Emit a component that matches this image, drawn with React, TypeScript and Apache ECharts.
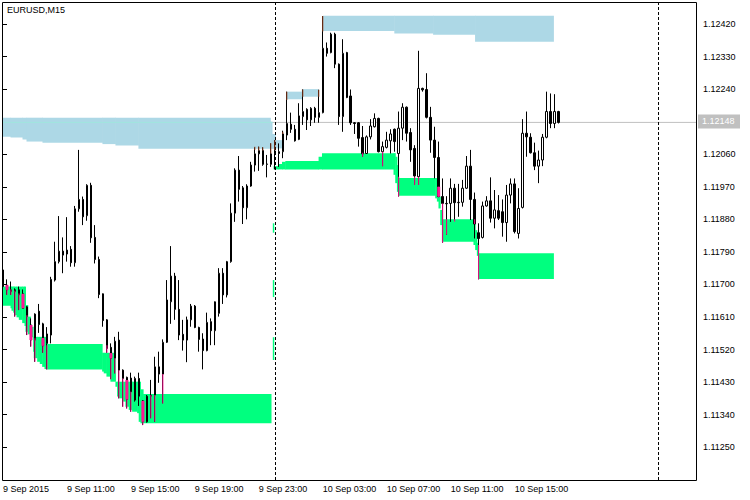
import React, { useEffect, useRef } from "react";
import * as echarts from "echarts";

const FONT = '"Liberation Sans", Arial, sans-serif';
const SYMBOL_TITLE = "EURUSD,M15";
const LAST_PRICE = 1.12148;

// 15-minute candles, 9 Sep 2015 07:00 .. 10 Sep 2015 17:45
const OPEN = [
  1.1174, 1.11698, 1.1168, 1.11685, 1.11685, 1.11674, 1.11638, 1.11588, 1.11546, 1.11626,
  1.11591, 1.11537, 1.1156, 1.11712, 1.11763, 1.11792, 1.11784, 1.11797, 1.1176, 1.11909,
  1.11935, 1.1189, 1.11974, 1.1183, 1.11769, 1.11674, 1.11602, 1.11526, 1.11496, 1.11546,
  1.11463, 1.11443, 1.11441, 1.1138, 1.1144, 1.11378, 1.1132, 1.11391, 1.11394, 1.11472,
  1.11452, 1.1154, 1.11652, 1.11723, 1.11631, 1.11562, 1.11546, 1.11602, 1.1164, 1.11581,
  1.11549, 1.11517, 1.11597, 1.11572, 1.1162, 1.11731, 1.11671, 1.11763, 1.11897, 1.12016,
  1.11967, 1.11912, 1.11972, 1.1203, 1.12061, 1.1207, 1.12032, 1.12032, 1.12069, 1.12067,
  1.12067, 1.12113, 1.12143, 1.12129, 1.12101, 1.12164, 1.12184, 1.12155, 1.12187, 1.12162,
  1.12175, 1.12353, 1.12341, 1.12392, 1.12309, 1.12164, 1.12341, 1.12221, 1.12147, 1.12147,
  1.12106, 1.12062, 1.12108, 1.12136, 1.12159, 1.12067, 1.12079, 1.12097, 1.12129, 1.12062,
  1.12132, 1.1219, 1.1212, 1.12076, 1.11998, 1.12242, 1.12239, 1.12162, 1.12099, 1.12051,
  1.11943, 1.11924, 1.11924, 1.11966, 1.11926, 1.11927, 1.11966, 1.12027, 1.11935, 1.11843,
  1.1183, 1.11917, 1.11931, 1.11883, 1.11904, 1.11901, 1.11871, 1.11947, 1.11978, 1.11841,
  1.11913, 1.12118, 1.12107, 1.12064, 1.12027, 1.12044, 1.12107, 1.12178, 1.12145, 1.12178,
];
const CLOSE = [
  1.11694, 1.11685, 1.11685, 1.1168, 1.11671, 1.11634, 1.11611, 1.11546, 1.11618, 1.11589,
  1.1153, 1.11563, 1.11714, 1.11763, 1.11792, 1.11781, 1.11795, 1.1176, 1.11909, 1.11935,
  1.11887, 1.11974, 1.11829, 1.11769, 1.11672, 1.116, 1.11523, 1.11496, 1.11543, 1.11463,
  1.1144, 1.11382, 1.11403, 1.1144, 1.11391, 1.1132, 1.11391, 1.11393, 1.11472, 1.11452,
  1.1154, 1.11657, 1.11723, 1.11631, 1.1156, 1.11546, 1.11602, 1.1164, 1.11581, 1.11548,
  1.11517, 1.11595, 1.11572, 1.11652, 1.11731, 1.11671, 1.11763, 1.11897, 1.12016, 1.11963,
  1.11912, 1.11972, 1.1203, 1.12061, 1.1207, 1.12032, 1.12033, 1.12061, 1.12063, 1.12062,
  1.12116, 1.12145, 1.12129, 1.12097, 1.12166, 1.12178, 1.12155, 1.12187, 1.12162, 1.12175,
  1.12353, 1.12339, 1.12392, 1.12309, 1.12164, 1.12339, 1.12217, 1.12147, 1.12145, 1.12104,
  1.12061, 1.12108, 1.12138, 1.12159, 1.12067, 1.12081, 1.12099, 1.12116, 1.12095, 1.12132,
  1.1219, 1.12118, 1.12072, 1.12, 1.12242, 1.12238, 1.12162, 1.12099, 1.12051, 1.11943,
  1.11924, 1.11923, 1.11966, 1.11926, 1.11927, 1.11966, 1.12027, 1.11935, 1.11867, 1.11827,
  1.11917, 1.11931, 1.11883, 1.11906, 1.11883, 1.11871, 1.11947, 1.11978, 1.11846, 1.1191,
  1.12118, 1.12108, 1.12064, 1.12027, 1.12044, 1.12107, 1.12178, 1.12145, 1.12178, 1.12148,
];
const LOW = [
  1.11693, 1.11671, 1.11671, 1.11611, 1.11629, 1.11634, 1.1156, 1.11528, 1.11486, 1.11566,
  1.11511, 1.11465, 1.11537, 1.11708, 1.11758, 1.11731, 1.11763, 1.11749, 1.11749, 1.11901,
  1.11864, 1.11876, 1.11815, 1.11758, 1.11662, 1.11583, 1.11511, 1.11438, 1.11454, 1.11385,
  1.11362, 1.11357, 1.11348, 1.11376, 1.11364, 1.11311, 1.11318, 1.1133, 1.1132, 1.11428,
  1.11371, 1.11538, 1.11591, 1.11602, 1.11546, 1.11517, 1.11485, 1.11583, 1.11579, 1.11514,
  1.11465, 1.11515, 1.11532, 1.11532, 1.11611, 1.11646, 1.11664, 1.1176, 1.11873, 1.11929,
  1.11867, 1.1188, 1.1197, 1.12012, 1.12014, 1.12028, 1.11996, 1.12025, 1.12018, 1.12025,
  1.12049, 1.12099, 1.12119, 1.12095, 1.12099, 1.12141, 1.12127, 1.12138, 1.12147, 1.12147,
  1.12173, 1.1233, 1.12339, 1.12298, 1.12141, 1.12122, 1.12215, 1.12141, 1.12116, 1.12081,
  1.12053, 1.12061, 1.12101, 1.12134, 1.12065, 1.12027, 1.12076, 1.12062, 1.12067, 1.11943,
  1.12099, 1.12095, 1.12039, 1.11975, 1.11975, 1.12233, 1.12159, 1.12064, 1.11993, 1.11941,
  1.11815, 1.11837, 1.11873, 1.11876, 1.11887, 1.11915, 1.11964, 1.11878, 1.11827, 1.11714,
  1.11827, 1.11915, 1.11871, 1.11855, 1.11878, 1.11832, 1.11818, 1.11924, 1.11841, 1.11827,
  1.1191, 1.12053, 1.12062, 1.12016, 1.1198, 1.12027, 1.12104, 1.12132, 1.12132, 1.12145,
];
const HIGH = [
  1.11743, 1.11714, 1.11708, 1.11689, 1.11694, 1.11686, 1.1164, 1.11606, 1.1162, 1.11646,
  1.11594, 1.11582, 1.11721, 1.11818, 1.11889, 1.1183, 1.11886, 1.11806, 1.11917, 1.12072,
  1.11943, 1.11977, 1.11981, 1.11864, 1.11777, 1.11675, 1.11604, 1.11537, 1.11555, 1.11569,
  1.11465, 1.11445, 1.11456, 1.11445, 1.11456, 1.1138, 1.11394, 1.11436, 1.115, 1.11514,
  1.11548, 1.11712, 1.11806, 1.11732, 1.11712, 1.11602, 1.11611, 1.11646, 1.11643, 1.11583,
  1.11565, 1.11622, 1.11606, 1.11653, 1.11745, 1.11745, 1.11765, 1.11924, 1.12021, 1.12055,
  1.11972, 1.11977, 1.12039, 1.12079, 1.12081, 1.12079, 1.12058, 1.1209, 1.12099, 1.1209,
  1.12125, 1.12233, 1.12175, 1.12141, 1.12201, 1.12239, 1.12187, 1.1219, 1.12191, 1.12238,
  1.12442, 1.12369, 1.12396, 1.12396, 1.12311, 1.12378, 1.12343, 1.12239, 1.12149, 1.12149,
  1.12138, 1.12112, 1.12157, 1.12173, 1.12161, 1.12095, 1.12122, 1.12129, 1.12131, 1.12178,
  1.12201, 1.12192, 1.12132, 1.12085, 1.12346, 1.12244, 1.12284, 1.12191, 1.12136, 1.12095,
  1.11993, 1.11944, 1.11993, 1.11978, 1.11978, 1.11989, 1.12055, 1.12072, 1.11954, 1.11869,
  1.11929, 1.11944, 1.11996, 1.11961, 1.11947, 1.11935, 1.11975, 1.11993, 1.11993, 1.11966,
  1.12157, 1.12178, 1.12118, 1.12092, 1.1207, 1.12116, 1.12233, 1.12228, 1.12226, 1.1218,
];

// time axis: bar index of each label
const TIME_TICKS = [0, 16, 32, 48, 64, 80, 96, 112, 128];
const TIME_LABELS = [
  "9 Sep 2015", "9 Sep 11:00", "9 Sep 15:00", "9 Sep 19:00", "9 Sep 23:00",
  "10 Sep 03:00", "10 Sep 07:00", "10 Sep 11:00", "10 Sep 15:00",
];
const PRICE_TICKS = [
  1.1125, 1.1134, 1.1143, 1.1152, 1.1161, 1.117, 1.1179, 1.1188, 1.1197, 1.1206,
  1.1224, 1.1233, 1.1242,
];
const DAY_SEPARATORS = [68, 164];

// zones: [fromBar, toBar, top, bottom]
const BLUE_ZONES = [
  [-0.125, 1.88, 1.12161, 1.12108],
  [1.88, 4.88, 1.12161, 1.12106],
  [4.88, 5.88, 1.12161, 1.12101],
  [5.88, 9.88, 1.12161, 1.12095],
  [9.88, 24.88, 1.12161, 1.12092],
  [24.88, 28.13, 1.12161, 1.12088],
  [28.13, 33.88, 1.12161, 1.12084],
  [33.88, 66.88, 1.12161, 1.12075],
  [66.88, 67.3, 1.1215, 1.12075],
  [67.3, 68.1, 1.12116, 1.12075],
  [68.1, 69.8, 1.12099, 1.12076],
  [71.05, 74.75, 1.12233, 1.12212],
  [74.75, 78.95, 1.1224, 1.12219],
  [80.05, 97.9, 1.12443, 1.12401],
  [97.9, 107.6, 1.12443, 1.12394],
  [107.6, 118.1, 1.12443, 1.1239],
  [118.1, 137.7, 1.12443, 1.12371],
];
const GREEN_ZONES = [
  [-0.125, 1.88, 1.11694, 1.11641],
  [1.88, 2.13, 1.11694, 1.11634],
  [2.13, 2.55, 1.11694, 1.11627],
  [2.55, 2.88, 1.11694, 1.11622],
  [2.88, 3.38, 1.11694, 1.11615],
  [3.38, 3.95, 1.11694, 1.11609],
  [3.95, 4.8, 1.11694, 1.11602],
  [4.8, 5.38, 1.11694, 1.11593],
  [5.38, 5.63, 1.11694, 1.11585],
  [5.63, 6.2, 1.11643, 1.11569],
  [6.2, 6.88, 1.11611, 1.11562],
  [6.88, 7.55, 1.11583, 1.11554],
  [7.55, 7.7, 1.11555, 1.11514],
  [7.7, 8.55, 1.11555, 1.11496],
  [8.55, 9.2, 1.11555, 1.11486],
  [9.2, 9.8, 1.11555, 1.1148],
  [9.8, 10.38, 1.11555, 1.11472],
  [10.38, 11.05, 1.11555, 1.11466],
  [11.05, 24.8, 1.11535, 1.11465],
  [24.8, 25.2, 1.11511, 1.11459],
  [25.2, 25.88, 1.11511, 1.11454],
  [25.88, 26.88, 1.11511, 1.11445],
  [26.88, 28.13, 1.11511, 1.11431],
  [28.13, 28.55, 1.11431, 1.11417],
  [28.55, 28.95, 1.11431, 1.1139],
  [28.95, 29.8, 1.11431, 1.11385],
  [29.8, 30.63, 1.11431, 1.11376],
  [30.63, 31.45, 1.11431, 1.11362],
  [31.45, 32.3, 1.11431, 1.11353],
  [32.3, 33.55, 1.11431, 1.11348],
  [33.55, 33.95, 1.11431, 1.11344],
  [33.95, 34.38, 1.11431, 1.1132],
  [34.38, 35.05, 1.1141, 1.11316],
  [35.05, 67.05, 1.11397, 1.11316],
  [67.5, 67.75, 1.11869, 1.11843],
  [67.5, 67.75, 1.11712, 1.11665],
  [67.5, 67.75, 1.11554, 1.11491],
  [67.7, 68.8, 1.12027, 1.12018],
  [68.8, 69.8, 1.12033, 1.12018],
  [69.8, 70.63, 1.12039, 1.12018],
  [70.63, 78.95, 1.12041, 1.12018],
  [78.95, 79.8, 1.12053, 1.12018],
  [79.8, 97.7, 1.12063, 1.12018],
  [97.7, 98.13, 1.12063, 1.12003],
  [98.13, 98.55, 1.12053, 1.1198],
  [98.55, 98.95, 1.1203, 1.11956],
  [98.95, 108.13, 1.11994, 1.11945],
  [108.13, 108.55, 1.11994, 1.11938],
  [108.55, 108.95, 1.1197, 1.11929],
  [108.95, 109.38, 1.11943, 1.1191],
  [109.38, 109.8, 1.11906, 1.11864],
  [109.8, 117.7, 1.1188, 1.11818],
  [117.7, 118.13, 1.11873, 1.11809],
  [118.13, 118.55, 1.1185, 1.11795],
  [118.55, 118.95, 1.11815, 1.11779],
  [118.95, 137.7, 1.11786, 1.11715],
];

// highlighted wick / body parts: [bar, top, bottom]
const PINK_WICKS = [
  [1, 1.11694, 1.11671], [2, 1.11686, 1.11671], [3, 1.11683, 1.11611], [4, 1.11675, 1.11629],
  [6, 1.11615, 1.1156], [7, 1.11546, 1.11528], [8, 1.11551, 1.11486], [10, 1.1153, 1.11511],
  [11, 1.11532, 1.11465], [26, 1.11532, 1.11511], [27, 1.1151, 1.11438], [28, 1.11496, 1.11454],
  [29, 1.11463, 1.11385], [30, 1.1144, 1.11362], [31, 1.11382, 1.11357], [32, 1.11403, 1.11348],
  [35, 1.1132, 1.11311], [37, 1.11394, 1.1133], [38, 1.11394, 1.1132], [40, 1.11452, 1.11371],
  [90, 1.12064, 1.12053], [95, 1.12067, 1.12027], [99, 1.11998, 1.11943], [103, 1.11998, 1.11975],
  [104, 1.11998, 1.11975], [109, 1.1197, 1.11941], [110, 1.11924, 1.11815], [111, 1.1188, 1.11837],
  [113, 1.1188, 1.11873], [118, 1.1188, 1.11867], [119, 1.11809, 1.11714],
];
const PINK_BODIES = [
  [1, 1.11698, 1.11685], [5, 1.11674, 1.11634], [7, 1.11588, 1.11546], [10, 1.11552, 1.1153],
  [27, 1.1151, 1.11496], [31, 1.11436, 1.11382], [35, 1.11378, 1.1132], [109, 1.1197, 1.11943],
];
const BROWN_WICKS = [
  [63, 1.12081, 1.12072], [64, 1.12081, 1.1207], [65, 1.12079, 1.1207], [67, 1.1209, 1.12062],
  [68, 1.12099, 1.12072], [70, 1.12122, 1.12116], [71, 1.12233, 1.1221], [75, 1.12239, 1.12219],
  [79, 1.12238, 1.12219], [80, 1.12442, 1.12399],
];

const zoneRenderer = (fill: string, withPriceLine: boolean) => (_p: any, api: any) => {
  const x0 = api.value(0);
  const x1 = api.value(1);
  const top = api.value(2);
  const bottom = api.value(3);
  const a = api.coord([x0, top]);
  const b = api.coord([x1, bottom]);
  const children: any[] = [
    {
      type: "rect",
      shape: { x: a[0], y: a[1], width: b[0] - a[0] + 0.5, height: b[1] - a[1] },
      style: { fill },
    },
  ];
  if (withPriceLine && top >= LAST_PRICE && bottom <= LAST_PRICE) {
    const y = api.coord([x0, LAST_PRICE])[1];
    children.push({
      type: "line",
      shape: { x1: a[0], y1: y, x2: b[0] + 0.5, y2: y },
      style: { stroke: "#A0E6DE", lineWidth: 1 },
    });
  }
  return { type: "group", children };
};

const markRenderer = (fill: string, width: number) => (_p: any, api: any) => {
  const a = api.coord([api.value(0), api.value(1)]);
  const b = api.coord([api.value(0), api.value(2)]);
  return {
    type: "rect",
    shape: { x: a[0] - width / 2, y: a[1], width, height: Math.max(1, b[1] - a[1]) },
    style: { fill },
  };
};

const priceLineRenderer = (params: any, api: any) => {
  const cs = params.coordSys;
  const price = api.value(1);
  const y = api.coord([0, price])[1];
  const right = cs.x + cs.width;
  return {
    type: "group",
    children: [
      {
        type: "line",
        shape: { x1: cs.x, y1: y, x2: right, y2: y },
        style: { stroke: "#C0C0C0", lineWidth: 1 },
      },
      {
        type: "rect",
        shape: { x: right + 1, y: y - 8, width: 42, height: 14 },
        style: { fill: "#C0C0C0" },
      },
      {
        type: "text",
        style: {
          x: right + 5,
          y: y - 1,
          text: price.toFixed(5),
          fill: "#ffffff",
          font: `9px ${FONT}`,
          verticalAlign: "middle",
          align: "left",
        },
      },
    ],
  };
};

export default function App() {
  const ref = useRef<HTMLDivElement>(null);
  useEffect(() => {
    document.body.style.margin = "0";
    const chart = echarts.init(ref.current!, null, { renderer: "svg" });
    const candles = OPEN.map((o, i) => [i, o, CLOSE[i], LOW[i], HIGH[i]]);
    const option: any = {
      animation: false,
      backgroundColor: "#ffffff",
      textStyle: { fontFamily: FONT },
      grid: { left: 2, top: 2, right: 53, bottom: 20 },
      xAxis: {
        type: "value",
        min: -0.125,
        max: 173.625,
        axisLine: { show: false },
        axisTick: { show: false },
        splitLine: { show: false },
        axisLabel: {
          customValues: TIME_TICKS,
          formatter: (v: number) => {
            const k = TIME_TICKS.indexOf(Math.round(v));
            return k >= 0 ? TIME_LABELS[k] : "";
          },
          align: "left",
          margin: 4,
          fontSize: 9,
          color: "#000",
          fontFamily: FONT,
        },
      },
      yAxis: {
        type: "value",
        position: "right",
        min: 1.111592,
        max: 1.124809,
        scale: true,
        axisLine: { show: false },
        splitLine: { show: false },
        axisTick: {
          show: true,
          length: 4,
          customValues: PRICE_TICKS,
          lineStyle: { color: "#000", width: 1 },
        },
        axisLabel: {
          customValues: PRICE_TICKS,
          formatter: (v: number) => v.toFixed(5),
          margin: 6,
          fontSize: 9,
          color: "#000",
          fontFamily: FONT,
        },
      },
      series: [
        {
          type: "custom",
          name: "bid",
          z: 1,
          clip: false,
          silent: true,
          encode: { x: 0, y: 1 },
          renderItem: priceLineRenderer,
          data: [[0, LAST_PRICE]],
        },
        {
          type: "custom",
          name: "resistance",
          z: 2,
          clip: true,
          silent: true,
          encode: { x: [0, 1], y: [2, 3] },
          renderItem: zoneRenderer("#ADD8E6", true),
          data: BLUE_ZONES,
        },
        {
          type: "custom",
          name: "support",
          z: 2,
          clip: true,
          silent: true,
          encode: { x: [0, 1], y: [2, 3] },
          renderItem: zoneRenderer("#00FF7F", false),
          data: GREEN_ZONES,
        },
        {
          type: "line",
          data: [],
          silent: true,
          z: 3,
          markLine: {
            silent: true,
            z: 3,
            symbol: "none",
            lineStyle: { color: "#000000", width: 1, type: [3, 2] },
            label: { show: false },
            emphasis: { disabled: true },
            data: DAY_SEPARATORS.map((b) => ({ xAxis: b })),
          },
        },
        {
          type: "candlestick",
          name: "EURUSD",
          z: 4,
          barWidth: 2,
          silent: true,
          data: candles,
          itemStyle: {
            color: "#ffffff",
            color0: "#000000",
            borderColor: "#000000",
            borderColor0: "#000000",
            borderColorDoji: "#000000",
            borderWidth: 1,
          },
        },
        {
          type: "custom",
          z: 5,
          clip: true,
          silent: true,
          encode: { x: 0, y: [1, 2] },
          renderItem: markRenderer("#FF1493", 1),
          data: PINK_WICKS,
        },
        {
          type: "custom",
          z: 5,
          clip: true,
          silent: true,
          encode: { x: 0, y: [1, 2] },
          renderItem: markRenderer("#FF1493", 3),
          data: PINK_BODIES,
        },
        {
          type: "custom",
          z: 5,
          clip: true,
          silent: true,
          encode: { x: 0, y: [1, 2] },
          renderItem: markRenderer("#8B3A1A", 1),
          data: BROWN_WICKS,
        },
      ],
      graphic: [
        {
          type: "rect",
          z: 100,
          silent: true,
          shape: { x: 2.5, y: 2.5, width: 694, height: 478 },
          style: { fill: "none", stroke: "#000000", lineWidth: 1 },
        },
        {
          type: "text",
          z: 100,
          left: 7,
          top: 5,
          style: { text: SYMBOL_TITLE, fill: "#000000", font: `9px ${FONT}` },
        },
      ],
    };
    chart.setOption(option);
    return () => chart.dispose();
  }, []);
  return <div ref={ref} style={{ width: 750, height: 500 }} />;
}
